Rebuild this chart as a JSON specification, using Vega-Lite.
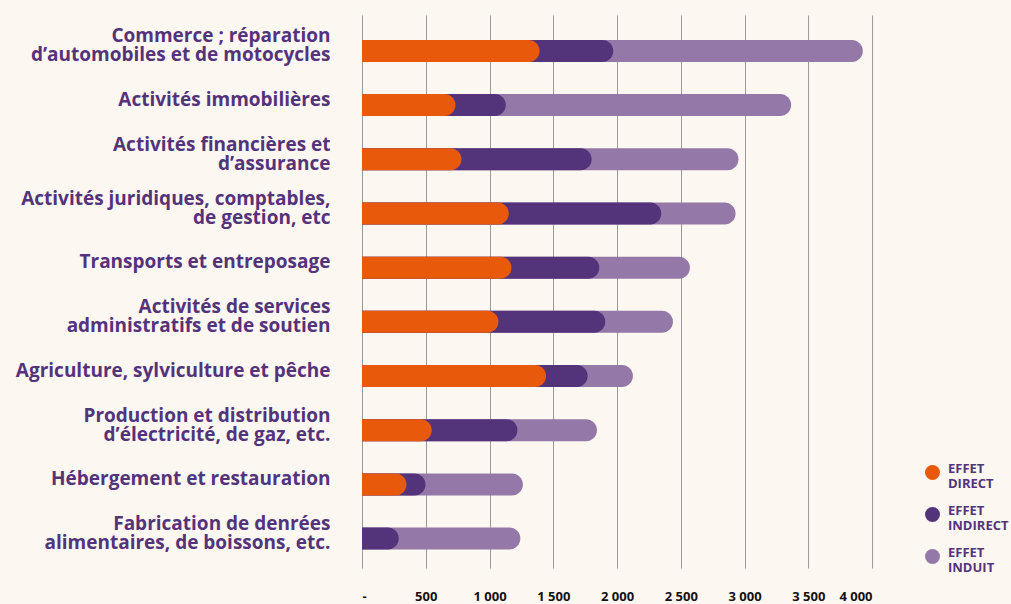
{
  "$schema": "https://vega.github.io/schema/vega-lite/v6.json",
  "width": 510,
  "height": 553,
  "autosize": {"type": "none"},
  "padding": {"left": 362, "top": 15, "right": 139, "bottom": 36},
  "background": "#FDF7F2",
  "config": {"view": {"stroke": null}, "font": "Open Sans"},
  "data": {
    "values": [
      {"secteur": "Commerce ; réparation|d’automobiles et de motocycles", "effet": "INDUIT", "fin": 3928},
      {"secteur": "Activités immobilières", "effet": "INDUIT", "fin": 3366},
      {"secteur": "Activités financières et|d’assurance", "effet": "INDUIT", "fin": 2953},
      {"secteur": "Activités juridiques, comptables,|de gestion, etc", "effet": "INDUIT", "fin": 2930},
      {"secteur": "Transports et entreposage", "effet": "INDUIT", "fin": 2572},
      {"secteur": "Activités de services|administratifs et de soutien", "effet": "INDUIT", "fin": 2439},
      {"secteur": "Agriculture, sylviculture et pêche", "effet": "INDUIT", "fin": 2125},
      {"secteur": "Production et distribution|d’électricité, de gaz, etc.", "effet": "INDUIT", "fin": 1843},
      {"secteur": "Hébergement et restauration", "effet": "INDUIT", "fin": 1262},
      {"secteur": "Fabrication de denrées|alimentaires, de boissons, etc.", "effet": "INDUIT", "fin": 1242},
      {"secteur": "Commerce ; réparation|d’automobiles et de motocycles", "effet": "INDIRECT", "fin": 1971},
      {"secteur": "Activités immobilières", "effet": "INDIRECT", "fin": 1128},
      {"secteur": "Activités financières et|d’assurance", "effet": "INDIRECT", "fin": 1801},
      {"secteur": "Activités juridiques, comptables,|de gestion, etc", "effet": "INDIRECT", "fin": 2347},
      {"secteur": "Transports et entreposage", "effet": "INDIRECT", "fin": 1861},
      {"secteur": "Activités de services|administratifs et de soutien", "effet": "INDIRECT", "fin": 1908},
      {"secteur": "Agriculture, sylviculture et pêche", "effet": "INDIRECT", "fin": 1770},
      {"secteur": "Production et distribution|d’électricité, de gaz, etc.", "effet": "INDIRECT", "fin": 1219},
      {"secteur": "Hébergement et restauration", "effet": "INDIRECT", "fin": 498},
      {"secteur": "Fabrication de denrées|alimentaires, de boissons, etc.", "effet": "INDIRECT", "fin": 288},
      {"secteur": "Commerce ; réparation|d’automobiles et de motocycles", "effet": "DIRECT", "fin": 1393},
      {"secteur": "Activités immobilières", "effet": "DIRECT", "fin": 733},
      {"secteur": "Activités financières et|d’assurance", "effet": "DIRECT", "fin": 780},
      {"secteur": "Activités juridiques, comptables,|de gestion, etc", "effet": "DIRECT", "fin": 1151},
      {"secteur": "Transports et entreposage", "effet": "DIRECT", "fin": 1172},
      {"secteur": "Activités de services|administratifs et de soutien", "effet": "DIRECT", "fin": 1070},
      {"secteur": "Agriculture, sylviculture et pêche", "effet": "DIRECT", "fin": 1444},
      {"secteur": "Production et distribution|d’électricité, de gaz, etc.", "effet": "DIRECT", "fin": 547},
      {"secteur": "Hébergement et restauration", "effet": "DIRECT", "fin": 349}
    ]
  },
  "mark": {"type": "bar", "cornerRadiusEnd": 11},
  "encoding": {
    "y": {
      "field": "secteur",
      "type": "nominal",
      "sort": null,
      "scale": {"paddingInner": 0.594, "paddingOuter": 0.4, "align": 0.575},
      "axis": {
        "title": null,
        "domain": false,
        "ticks": false,
        "grid": false,
        "labelExpr": "split(datum.label, '|')",
        "labelFontSize": 19,
        "labelFontWeight": "bold",
        "labelColor": "#53337A",
        "labelPadding": 32,
        "labelLineHeight": 19,
        "labelLimit": 400,
        "labelOffset": {"condition": {"test": "indexof(datum.value, '|') >= 0", "value": -14.5}, "value": -5.5}
      }
    },
    "x": {
      "field": "fin",
      "type": "quantitative",
      "stack": null,
      "scale": {"domain": [0, 4000], "nice": false},
      "axis": {
        "title": null,
        "orient": "bottom",
        "domain": false,
        "ticks": false,
        "grid": true,
        "gridColor": "#9A9A9A",
        "gridOpacity": 1,
        "gridWidth": 1,
        "values": [0, 500, 1000, 1500, 2000, 2500, 3000, 3500, 4000],
        "labelExpr": "datum.value == 0 ? '-' : replace(format(datum.value, ','), ',', ' ')",
        "labelFontSize": 13,
        "labelFontWeight": "bold",
        "labelColor": "#111111",
        "labelPadding": 22
      }
    },
    "color": {
      "field": "effet",
      "type": "nominal",
      "scale": {"domain": ["DIRECT", "INDIRECT", "INDUIT"], "range": ["#E8590C", "#53337A", "#9479A8"]},
      "legend": {
        "title": null,
        "orient": "none",
        "legendX": 563,
        "legendY": 450,
        "symbolType": "circle",
        "symbolSize": 225,
        "symbolStrokeWidth": 0,
        "symbolOpacity": 1,
        "labelExpr": "['EFFET', datum.label]",
        "labelFontSize": 13,
        "labelFontWeight": "bold",
        "labelColor": "#53337A",
        "labelLineHeight": 13,
        "labelBaseline": "alphabetic",
        "labelOffset": 8,
        "rowPadding": 13,
        "padding": 0
      }
    }
  }
}
